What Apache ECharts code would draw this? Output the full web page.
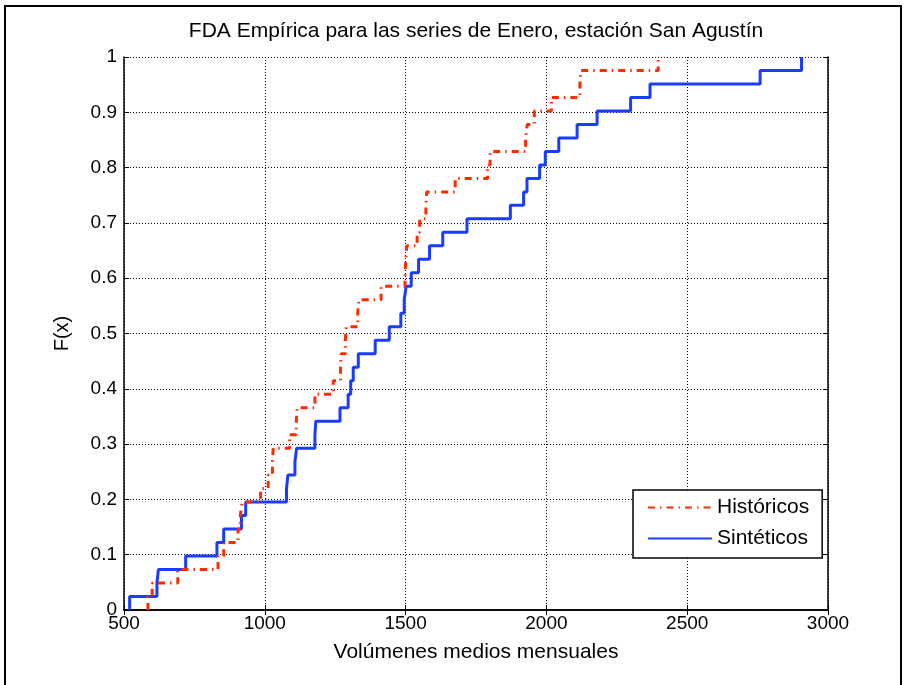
<!DOCTYPE html>
<html>
<head>
<meta charset="utf-8">
<script src="https://cdn.jsdelivr.net/npm/echarts@6/dist/echarts.min.js"></script>
<style>
  html, body { margin: 0; padding: 0; background: #fff; }
  #eChart { width: 904px; height: 685px; }
</style>
</head>
<body>
<div id="eChart"></div>
<script>
// muestras ordenadas (41 valores cada una)
const historicos = [585, 600, 691, 834, 854, 905, 913, 920, 985, 1012, 1027, 1030, 1088, 1112, 1115,
  1178, 1243, 1269, 1271, 1286, 1289, 1330, 1334, 1413, 1498, 1501, 1504, 1541, 1550, 1572, 1575,
  1676, 1791, 1800, 1926, 1932, 1957, 2018, 2119, 2122, 2397];
const sinteticos = [520, 617, 622, 719, 830, 854, 917, 932, 1077, 1082, 1107, 1113, 1178, 1181,
  1267, 1296, 1305, 1314, 1332, 1392, 1442, 1483, 1495, 1502, 1520, 1546, 1585, 1632, 1718, 1872,
  1919, 1931, 1976, 1996, 2044, 2109, 2180, 2299, 2368, 2759, 2906];
const seriesNames = ["Históricos", "Sintéticos"];
const xTicks = { min: 500, max: 3000, interval: 500 };
const yTicks = { min: 0, max: 1, interval: 0.1 };

const FONT = '"Liberation Sans", Arial, sans-serif';

// FDA empirica: escalon de 1/n en cada muestra
function ecdf(values) {
  const n = values.length;
  const pts = [[values[0], 0]];
  values.forEach((v, i) => pts.push([v, (i + 1) / n]));
  return pts;
}

const chart = echarts.init(document.getElementById("eChart"), null, { renderer: "canvas" });

const tick = { show: true, inside: true, length: 5, lineStyle: { color: "#000", width: 1 } };
const axLine = { show: true, lineStyle: { color: "#000", width: 1.5 } };
const grid = { show: true, lineStyle: { color: "#000", width: 1, type: [1, 2] } };

chart.setOption({
  animation: false,
  backgroundColor: "#fff",
  grid: { left: 124, right: 76, top: 57, bottom: 75 },
  graphic: [
    {
      type: "rect", silent: true,
      shape: { x: 5, y: 6, width: 896, height: 720 },
      style: { fill: "none", stroke: "#000", lineWidth: 2 }
    },
    {
      type: "text", x: 476, y: 21,
      style: {
        text: "FDA Empírica para las series de Enero, estación San Agustín",
        fill: "#000", font: "21px " + FONT, textAlign: "center", align: "center"
      }
    }
  ],
  legend: {
    data: seriesNames,
    orient: "vertical",
    left: 633, top: 490,
    itemWidth: 64, itemHeight: 20, itemGap: 10,
    padding: [7, 13, 9, 14],
    backgroundColor: "#fff",
    borderColor: "#000", borderWidth: 1.5,
    itemStyle: { opacity: 0 },
    textStyle: { fontFamily: FONT, fontSize: 21, color: "#000" }
  },
  xAxis: [
    {
      type: "value", ...xTicks,
      axisLine: axLine, axisTick: tick, splitLine: grid,
      axisLabel: { fontFamily: FONT, fontSize: 19, color: "#000", margin: 4, formatter: (v) => String(v) },
      name: "Volúmenes medios mensuales",
      nameLocation: "middle", nameGap: 32,
      nameTextStyle: { fontFamily: FONT, fontSize: 21, color: "#000" }
    },
    {
      type: "value", position: "top", ...xTicks,
      axisLine: axLine, axisTick: tick, splitLine: { show: false },
      axisLabel: { show: false }
    }
  ],
  yAxis: [
    {
      type: "value", ...yTicks,
      axisLine: axLine, axisTick: tick, splitLine: grid,
      axisLabel: { fontFamily: FONT, fontSize: 19, color: "#000", margin: 7 },
      name: "F(x)",
      nameLocation: "middle", nameGap: 52,
      nameTextStyle: { fontFamily: FONT, fontSize: 20, color: "#000" }
    },
    {
      type: "value", position: "right", ...yTicks,
      axisLine: axLine, axisTick: tick, splitLine: { show: false },
      axisLabel: { show: false }
    }
  ],
  series: [
    {
      name: seriesNames[0], type: "line", step: "end",
      data: ecdf(historicos),
      symbol: "none", z: 3,
      lineStyle: { color: "#ff2a00", width: 3, type: [7, 5, 1.5, 5], cap: "butt" },
      itemStyle: { color: "#ff2a00" }
    },
    {
      name: seriesNames[1], type: "line", step: "end",
      data: ecdf(sinteticos),
      symbol: "none", z: 2,
      lineStyle: { color: "#1a3cff", width: 3 },
      itemStyle: { color: "#1a3cff" }
    }
  ]
});
</script>
</body>
</html>
